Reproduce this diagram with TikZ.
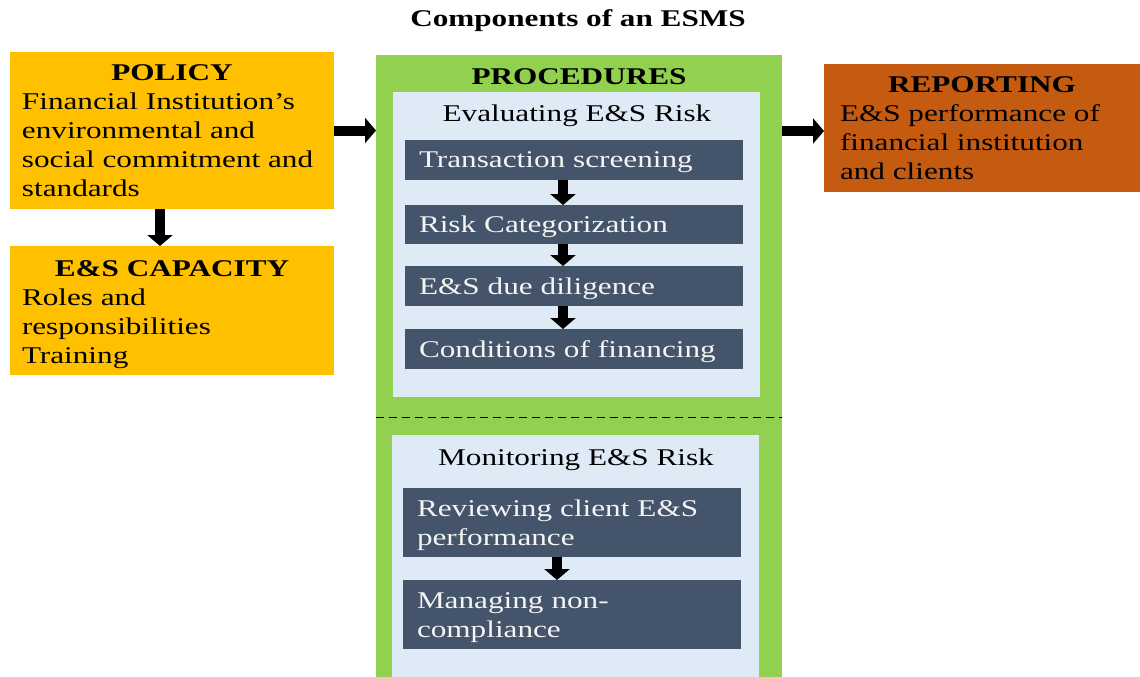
\documentclass[tikz,border=0pt]{standalone}
\usepackage{fontspec}
\setmainfont{Liberation Serif}[FakeStretch=1.3]
\usetikzlibrary{arrows.meta}
\definecolor{polyellow}{HTML}{FFC000}
\definecolor{procgreen}{HTML}{92D050}
\definecolor{lightblue}{HTML}{DEEBF7}
\definecolor{darkslate}{HTML}{44546A}
\definecolor{reportorange}{HTML}{C55A11}
\definecolor{boxtext}{HTML}{F4F4F4}
\tikzset{
  box/.style={anchor=north west, inner sep=0pt, outer sep=0pt},
  bodytext/.style={font=\fontsize{24}{29}\selectfont},
  compbox/.style={box, bodytext},
  darkbox/.style={box, fill=darkslate, text=boxtext, minimum width=338pt,
    inner xsep=14pt, inner ysep=0pt, text width=310pt, align=left, bodytext},
  oneline/.style={darkbox, text depth=-4pt},
  twoline/.style={darkbox, text height=17pt, text depth=29pt, minimum height=69pt},
  headtext/.style={bodytext, inner sep=0pt},
  blockarrow/.style={draw=black, line width=10pt,
    -{Triangle[width=25pt,length=11pt]}},
}
\begin{document}
\begin{tikzpicture}[x=1pt,y=-1pt]
\useasboundingbox (0,0) rectangle (1140,677);
% title
\node[inner sep=0pt, font=\fontsize{24}{28}\selectfont\bfseries] (title) at (578,21) {Components of an ESMS};
% left boxes
\node[compbox, fill=polyellow, minimum width=324pt, minimum height=157pt] (policy) at (10,52)
  {\begin{minipage}{300pt}\centering\textbf{POLICY}\par\raggedright
   Financial Institution’s\\environmental  and\\social commitment  and\\standards\end{minipage}};
\node[compbox, fill=polyellow, minimum width=324pt, minimum height=129pt] (capacity) at (10,246)
  {\begin{minipage}{300pt}\vspace*{8pt}\centering\textbf{E\&S CAPACITY}\par\raggedright
   Roles and\\responsibilities\\Training\end{minipage}};
% procedures
\node[box, fill=procgreen, minimum width=406pt, minimum height=622pt] (proc) at (376,55) {};
\node[headtext, font=\fontsize{24}{29}\selectfont\bfseries] (prochead) at (579,77) {PROCEDURES};
\node[box, fill=lightblue, minimum width=367pt, minimum height=305pt] (evalbox) at (393,92) {};
\node[headtext] (evalhead) at (577,116) {Evaluating E\&S Risk};
\node[oneline, minimum height=40pt] (ts) at (405,140) {Transaction  screening};
\node[oneline, minimum height=39pt] (rc) at (405,205) {Risk Categorization};
\node[oneline, minimum height=40pt] (dd) at (405,266) {E\&S  due diligence};
\node[oneline, minimum height=40pt] (cf) at (405,329) {Conditions  of financing};
\coordinate (dashL) at (376,417);
\coordinate (dashR) at (782,417);
\draw[dashed, dash pattern=on 8pt off 5pt, line width=1pt] (dashL) -- (dashR);
\node[box, fill=lightblue, minimum width=367pt, minimum height=242pt] (monbox) at (392,435) {};
\node[headtext] (monhead) at (576,460) {Monitoring E\&S Risk};
\node[twoline] (rv) at (403,488) {Reviewing  client E\&S\\performance};
\node[twoline] (mg) at (403,580) {Managing  non-\\compliance};
% reporting
\node[compbox, fill=reportorange, minimum width=316pt, minimum height=128pt] (reporting) at (824,64)
  {\begin{minipage}{284pt}\centering\textbf{REPORTING}\par\raggedright
   E\&S performance  of\\financial institution\\and clients\end{minipage}};
% arrows
\draw[blockarrow] ([xshift=-12pt]policy.south) -- ([xshift=-12pt]capacity.north);
\draw[blockarrow] (policy.east) -- (policy.east -| proc.west);
\draw[blockarrow] ([yshift=-3pt]reporting.west -| proc.east) -- ([yshift=-3pt]reporting.west);
\draw[blockarrow] ([xshift=-11pt]ts.south) -- ([xshift=-11pt]rc.north);
\draw[blockarrow] ([xshift=-11pt]rc.south) -- ([xshift=-11pt]dd.north);
\draw[blockarrow] ([xshift=-11pt]dd.south) -- ([xshift=-11pt]cf.north);
\draw[blockarrow] ([xshift=-15pt]rv.south) -- ([xshift=-15pt]mg.north);
\end{tikzpicture}
\end{document}
